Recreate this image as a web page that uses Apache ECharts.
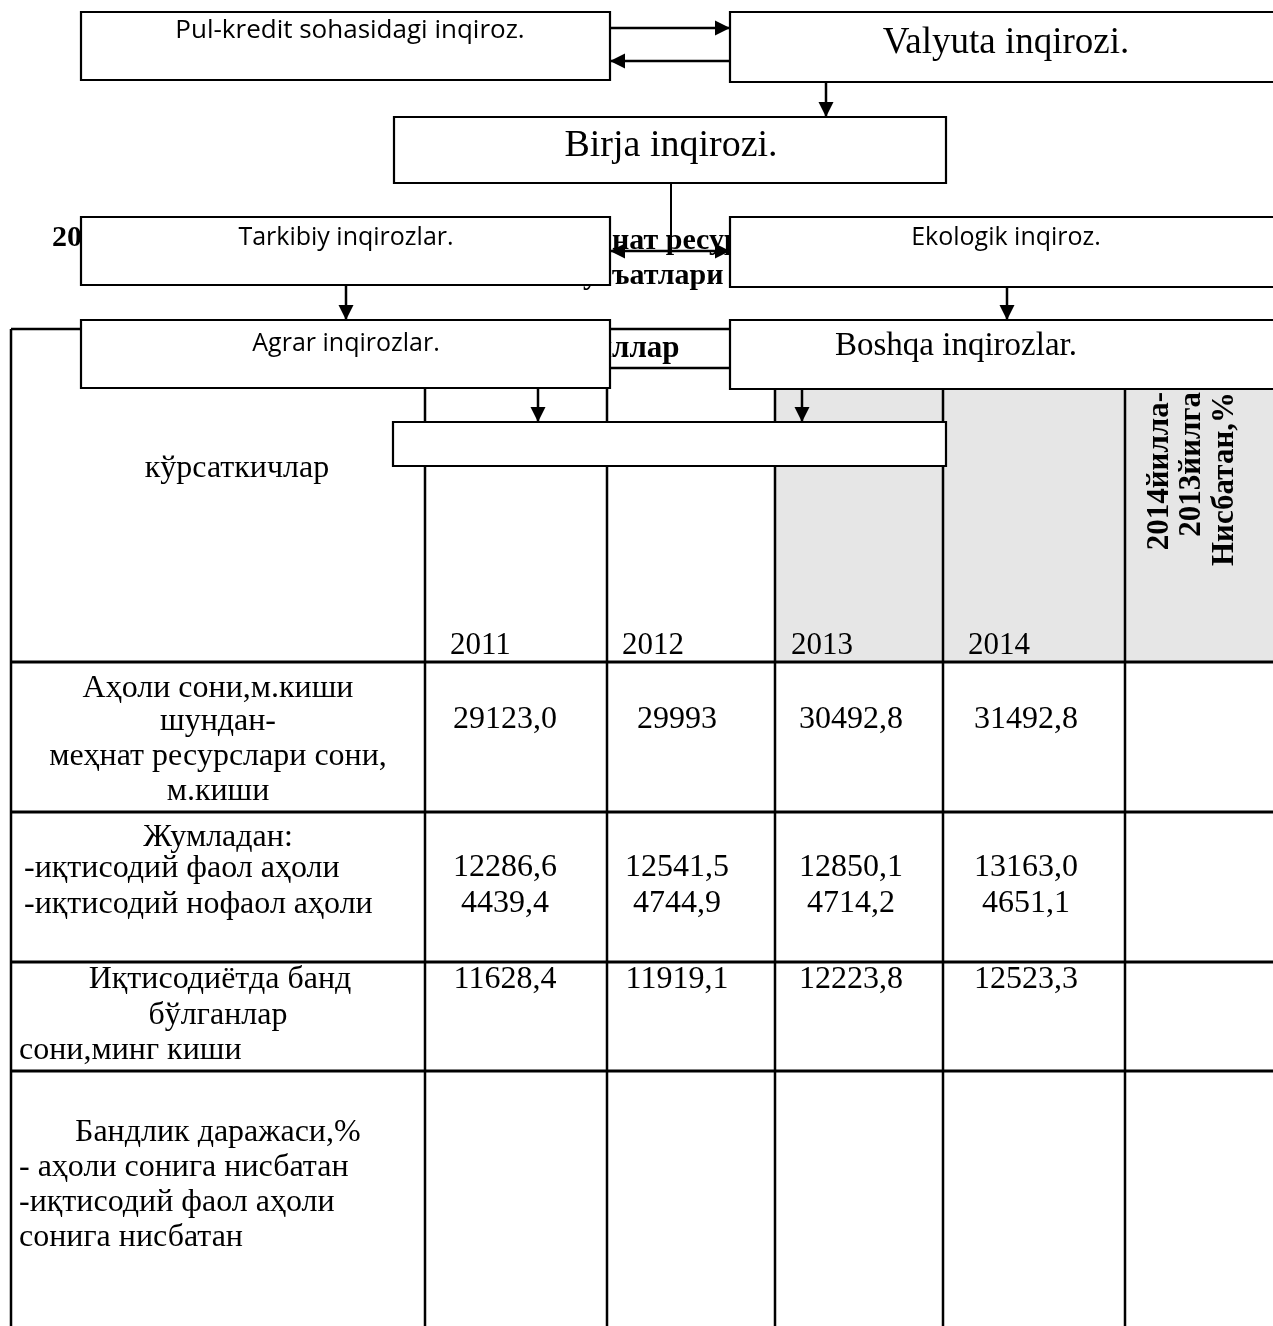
<!DOCTYPE html>
<html><head><meta charset="utf-8">
<script src="https://cdn.jsdelivr.net/npm/echarts@6/dist/echarts.min.js"></script>
<style>html,body{margin:0;padding:0;background:#fff}#c{width:1273px;height:1326px}</style>
</head><body><div id="c"></div>
<script>
// ---- data ----
const flowNodes = ['Pul-kredit sohasidagi inqiroz.', 'Valyuta inqirozi.', 'Birja inqirozi.', 'Tarkibiy inqirozlar.', 'Ekologik inqiroz.', 'Agrar inqirozlar.', 'Boshqa inqirozlar.', ''];
const years = ['2011', '2012', '2013', '2014'];
const headerLabel = 'кўрсаткичлар';
const yearsHeader = ['йи', 'ллар'];
const ratioHeader = ['2014йилла-', '2013йилга', 'Нисбатан,%'];
const titleParts = ['2011-2014 йилларда', 'нат ресурслари', 'у', 'ъатлари'];
const rowLabels = [
  ['Аҳоли сони,м.киши', 'шундан-', 'меҳнат ресурслари сони,', 'м.киши'],
  ['Жумладан:', '-иқтисодий фаол аҳоли', '-иқтисодий нофаол аҳоли'],
  ['Иқтисодиётда банд', 'бўлганлар', 'сони,минг киши'],
  ['Бандлик даражаси,%', '- аҳоли сонига нисбатан', '-иқтисодий фаол аҳоли', 'сонига нисбатан']
];
const population = ['29123,0', '29993', '30492,8', '31492,8'];
const activePop = ['12286,6', '12541,5', '12850,1', '13163,0'];
const inactivePop = ['4439,4', '4744,9', '4714,2', '4651,1'];
const employed = ['11628,4', '11919,1', '12223,8', '12523,3'];

// ---- layout ----
const SERIF = '"Liberation Serif", "DejaVu Serif", serif';
const SANS = '"Open Sans", "Noto Sans", sans-serif';
const BODY = '32px ' + SERIF;
const BOLD = 'bold 30px ' + SERIF;
const colX = [11, 425, 607, 775, 943, 1125, 1273];
const rowY = [329, 662, 812, 962, 1071, 1326];
const valueCX = [505, 677, 851, 1026];
const yearLX = [450, 622, 791, 968];
const els = [];
const mctx = document.createElement('canvas').getContext('2d');
function measure(t, font) { mctx.font = font; return mctx.measureText(t).width; }

function txt(t, x, y, opt) {
  opt = opt || {};
  const align = opt.align || 'center', va = opt.va || 'middle';
  els.push({
    type: 'text', x: x, y: y, z: opt.z || 3, rotation: opt.rot || 0, silent: true,
    style: { text: t, font: opt.font || BODY, fill: '#000',
      align: align, textAlign: align, verticalAlign: va, textVerticalAlign: va }
  });
}
function line(x1, y1, x2, y2, w, z) {
  els.push({ type: 'line', z: z || 2, silent: true, shape: { x1: x1, y1: y1, x2: x2, y2: y2 },
    style: { stroke: '#000', lineWidth: w || 2.5 } });
}
function rect(x, y, w, h, fill, stroke, z) {
  els.push({ type: 'rect', z: z, silent: true, shape: { x: x, y: y, width: w, height: h },
    style: { fill: fill, stroke: stroke || null, lineWidth: stroke ? 2.2 : 0 } });
}
function head(x, y, dx, dy) {
  const L = 15, W = 7.5;
  const bx = x - dx * L, by = y - dy * L;
  els.push({ type: 'polygon', z: 8, silent: true,
    shape: { points: [[x, y], [bx - dy * W, by + dx * W], [bx + dy * W, by - dx * W]] },
    style: { fill: '#000' } });
}
function arrow(x1, y1, x2, y2, startHead, endHead) {
  line(x1, y1, x2, y2, 2.5, 8);
  const len = Math.hypot(x2 - x1, y2 - y1), dx = (x2 - x1) / len, dy = (y2 - y1) / len;
  if (endHead) head(x2, y2, dx, dy);
  if (startHead) head(x1, y1, -dx, -dy);
}

// gray header background
rect(colX[3], 368, colX[6] - colX[3], rowY[1] - 368, '#e6e6e6', null, 0);

// table grid
line(colX[0], rowY[0], colX[6], rowY[0], 2.5);
line(colX[1], 368, colX[5], 368, 2.5);
for (let i = 1; i < rowY.length - 1; i++) line(colX[0], rowY[i], colX[6], rowY[i], 2.8);
line(colX[0], rowY[0], colX[0], rowY[5], 2.5);
line(colX[1], rowY[0], colX[1], rowY[5], 2.5);
for (let i = 2; i <= 4; i++) line(colX[i], 368, colX[i], rowY[5], 2.5);
line(colX[5], rowY[0], colX[5], rowY[5], 2.5);

// header texts
txt(headerLabel, 237, 469);
years.forEach((y, i) => txt(y, yearLX[i], 646, { align: 'left', font: '31px ' + SERIF }));
const wYi = measure(yearsHeader[0], 'bold 31px ' + SERIF);
txt(yearsHeader[0], 612 - wYi, 349, { align: 'left', font: 'bold 31px ' + SERIF });
txt(yearsHeader[1], 612, 349, { align: 'left', font: 'bold 31px ' + SERIF });
const rotX = [1160, 1192, 1225];
ratioHeader.forEach((t, i) => txt(t, rotX[i], 392, { align: 'right', rot: Math.PI / 2, font: 'bold 31px ' + SERIF }));

// title fragments (partly hidden behind the scheme)
txt(titleParts[0], 52, 238, { align: 'left', font: BOLD });
txt(titleParts[1], 612, 241, { align: 'left', font: BOLD });
txt(titleParts[2], 583, 276, { align: 'left', font: BOLD });
txt(titleParts[3], 612, 276, { align: 'left', font: BOLD });

// row labels
const r0 = [689, 722, 757, 792];
rowLabels[0].forEach((t, i) => txt(t, 218, r0[i]));
txt(rowLabels[1][0], 218, 838);
txt(rowLabels[1][1], 24, 869, { align: 'left' });
txt(rowLabels[1][2], 24, 905, { align: 'left' });
txt(rowLabels[2][0], 220, 980);
txt(rowLabels[2][1], 218, 1016);
txt(rowLabels[2][2], 19, 1051, { align: 'left' });
txt(rowLabels[3][0], 75, 1133, { align: 'left' });
[1168, 1203, 1238].forEach((y, i) => txt(rowLabels[3][i + 1], 19, y, { align: 'left' }));

// values
population.forEach((v, i) => txt(v, valueCX[i], 720));
activePop.forEach((v, i) => txt(v, valueCX[i], 868));
inactivePop.forEach((v, i) => txt(v, valueCX[i], 904));
employed.forEach((v, i) => txt(v, valueCX[i], 980));

// scheme boxes
const boxes = [
  { x: 81, y: 12, w: 529, h: 68, tx: 350, ty: 31, font: '26px ' + SANS },
  { x: 730, y: 12, w: 580, h: 70, tx: 1006, ty: 43, font: '37px ' + SERIF },
  { x: 394, y: 117, w: 552, h: 66, tx: 671, ty: 146, font: '38px ' + SERIF },
  { x: 81, y: 217, w: 529, h: 68, tx: 346, ty: 238, font: '25px ' + SANS },
  { x: 730, y: 217, w: 580, h: 70, tx: 1006, ty: 238, font: '25px ' + SANS },
  { x: 81, y: 320, w: 529, h: 68, tx: 346, ty: 344, font: '25px ' + SANS },
  { x: 730, y: 320, w: 580, h: 69, tx: 956, ty: 346, font: '33px ' + SERIF },
  { x: 393, y: 422, w: 553, h: 44, tx: 670, ty: 444, font: '25px ' + SANS }
];
boxes.forEach((b, i) => {
  rect(b.x, b.y, b.w, b.h, '#fff', '#000', 5);
  if (flowNodes[i]) txt(flowNodes[i], b.tx, b.ty, { font: b.font, z: 6 });
});

// arrows
arrow(610, 28, 730, 28, false, true);
arrow(730, 61, 610, 61, false, true);
arrow(826, 82, 826, 117, false, true);
line(671, 183, 671, 251, 2, 8);
arrow(610, 251, 730, 251, true, true);
arrow(346, 285, 346, 320, false, true);
arrow(1007, 287, 1007, 320, false, true);
arrow(538, 388, 538, 422, false, true);
arrow(802, 389, 802, 422, false, true);

const chart = echarts.init(document.getElementById('c'), null, { renderer: 'canvas' });
chart.setOption({ backgroundColor: '#fff', animation: false, graphic: { elements: els } });
</script></body></html>
